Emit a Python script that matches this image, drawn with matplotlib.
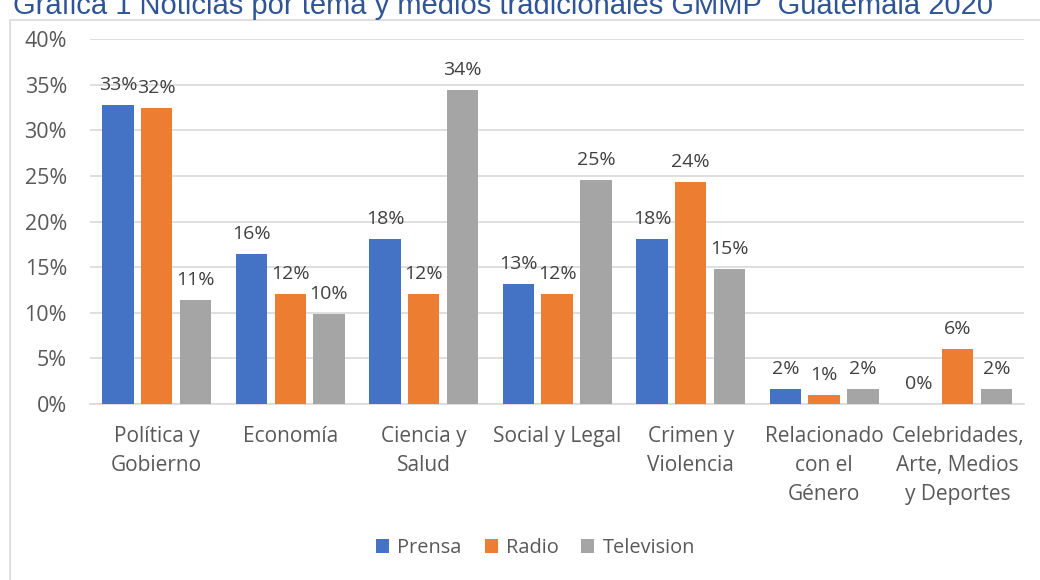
import matplotlib
matplotlib.use('Agg')
import matplotlib.pyplot as plt
import matplotlib.patches as mpatches
import numpy as np

categories = ['Política y\nGobierno', 'Economía', 'Ciencia y\nSalud', 'Social y Legal',
              'Crimen y\nViolencia', 'Relacionado\ncon el\nGénero',
              'Celebridades,\nArte, Medios\ny Deportes']
prensa = [32.8, 16.4, 18.1, 13.2, 18.1, 1.6, 0.0]
radio = [32.4, 12.1, 12.1, 12.1, 24.3, 1.0, 6.0]
television = [11.4, 9.9, 34.4, 24.6, 14.8, 1.6, 1.6]
series_names = ['Prensa', 'Radio', 'Television']
colors = ['#4472C4', '#ED7D31', '#A5A5A5']
title = 'Gráfica 1 Noticias por tema y medios tradicionales GMMP  Guatemala 2020'

plt.rcParams['font.family'] = ['Open Sans', 'DejaVu Sans']
text_color = '#595959'

fig = plt.figure(figsize=(10.4, 5.8), dpi=100)
ax = fig.add_axes([0.0865, 0.3034, 0.8985, 0.6294])

# chart frame
fig.patches.append(mpatches.Rectangle((10 / 1040, -0.05), 1.1, 1 - 20 / 580 + 0.05,
                                      transform=fig.transFigure, fill=False,
                                      edgecolor='#D9D9D9', linewidth=1.2))

x = np.arange(len(categories))
width = 0.235
offsets = [-0.29, 0, 0.29]
for vals, name, col, off in zip([prensa, radio, television], series_names, colors, offsets):
    bars = ax.bar(x + off, vals, width, color=col, label=name, zorder=3)
    for b, v in zip(bars, vals):
        ax.text(b.get_x() + b.get_width() / 2, v + 1.2, f'{round(v)}%',
                ha='center', va='bottom', fontsize=14, color='#404040')

ax.set_ylim(0, 40)
ax.set_xlim(-0.5, len(categories) - 0.5)
ax.set_yticks(range(0, 41, 5))
ax.set_yticklabels([f'{t}%' for t in range(0, 41, 5)])
ax.set_xticks(x)
ax.set_xticklabels(categories, linespacing=1.48)
ax.tick_params(axis='x', length=0, colors=text_color, labelsize=15, pad=16)
ax.tick_params(axis='y', length=0, colors=text_color, labelsize=15.5, pad=16.5)
ax.grid(axis='y', color='#D9D9D9', linewidth=1.2, zorder=0)
for s in ['top', 'right', 'left']:
    ax.spines[s].set_visible(False)
ax.spines['bottom'].set_color('#D9D9D9')
ax.spines['bottom'].set_linewidth(1.2)

leg = fig.legend(loc='center', bbox_to_anchor=(0.515, 1 - 548 / 580), ncol=3, frameon=False,
                 fontsize=14.4, handlelength=0.65, handleheight=0.65, columnspacing=1.15,
                 handletextpad=0.4)
for t in leg.get_texts():
    t.set_color(text_color)

fig.text(13 / 1040, 1 - 14 / 580, title, ha='left', va='baseline', fontsize=21,
         color='#2F5597', family=['Liberation Sans Narrow', 'Liberation Sans', 'DejaVu Sans'])

fig.savefig('out.png', dpi=100)
